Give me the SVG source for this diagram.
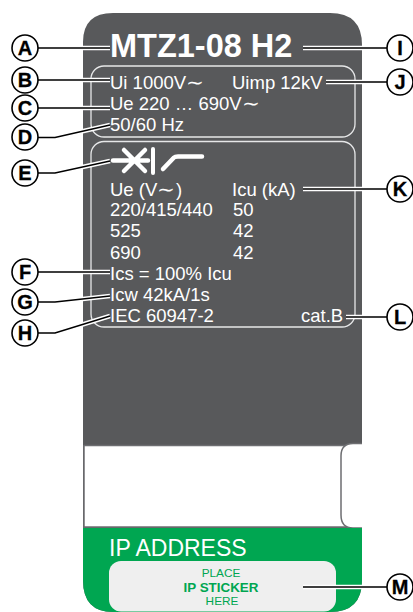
<svg xmlns="http://www.w3.org/2000/svg" width="413" height="612" viewBox="0 0 413 612">
<style>
text{font-family:"Liberation Sans",Arial,sans-serif}
.v{fill:#fff;font-size:18.5px}
.c{fill:#fff;stroke:#000;stroke-width:1.6}
.l{font-size:20px;font-weight:700;fill:#000;text-anchor:middle;stroke:#000;stroke-width:.3}
.wl{fill:none;stroke:#fff;stroke-width:4.500}
.bl{fill:none;stroke:#000;stroke-width:1.500}
.g{fill:#00a651;text-anchor:middle;font-size:11.800px}
</style>
<g id="label-plate">
<path d="M83 528V42Q83 13 113 13H330Q362 13 362 45V443.500H353Q341 443.500 341 456V515Q341 528 353 528H362V580Q362 612 330 612H113Q83 612 83 580Z" fill="#58595b"/>
<path d="M84 445.500H347Q341 449 341 456V515Q341 522 347 527H84Z" fill="#fff"/>
<path d="M84 445.500H345M84 445V528M84 527H350" fill="none" stroke="#6d6e71" stroke-width="1.500"/>
<path d="M362 443.500H353Q341 443.500 341 456V515Q341 528 353 528H362V443.500Z" fill="#fff"/>
<path d="M362 443.500H353Q341 443.500 341 456V515Q341 528 353 528H362" fill="none" stroke="#6d6e71" stroke-width="1.500"/>
<path d="M83 528H362V580Q362 612 330 612H113Q83 612 83 580Z" fill="#00a651"/>
<rect x="109" y="561" width="227" height="50.500" rx="12" fill="#efefef"/>
<rect x="91" y="66" width="264" height="71" rx="13" fill="none" stroke="#e6e7e8" stroke-width="1.300"/>
<rect x="91" y="141.500" width="264" height="185.500" rx="13" fill="none" stroke="#e6e7e8" stroke-width="1.300"/>
</g>
<g id="plate-text">
<text x="110" y="57" fill="#fff" font-size="32.500" font-weight="700">MTZ1-08 H2</text>
<text class="v" x="110" y="89">Ui 1000V<tspan x="186" textLength="18" lengthAdjust="spacingAndGlyphs">∼</tspan></text>
<text class="v" x="232" y="89">Uimp 12kV</text>
<text class="v" x="110" y="110">Ue 220 … 690V<tspan x="242" textLength="18" lengthAdjust="spacingAndGlyphs">∼</tspan></text>
<text class="v" x="110" y="131">50/60 Hz</text>
<text class="v" x="110" y="196">Ue (V<tspan x="157" textLength="18" lengthAdjust="spacingAndGlyphs">∼</tspan><tspan x="176">)</tspan></text>
<text class="v" x="232" y="196">Icu (kA)</text>
<text class="v" x="110" y="216">220/415/440</text>
<text class="v" x="233" y="216">50</text>
<text class="v" x="110" y="237">525</text>
<text class="v" x="233" y="237">42</text>
<text class="v" x="110" y="259">690</text>
<text class="v" x="233" y="259">42</text>
<text class="v" x="110" y="280">Ics = 100% Icu</text>
<text class="v" x="110" y="301">Icw 42kA/1s</text>
<text class="v" x="110" y="322">IEC 60947-2</text>
<text class="v" x="301" y="322">cat.B</text>
<text x="109" y="556" fill="#fff" font-size="23">IP ADDRESS</text>
<text class="g" x="221" y="577">PLACE</text>
<text class="g" x="221" y="592" font-weight="700" style="font-size:13.400px">IP STICKER</text>
<text class="g" x="222" y="605">HERE</text>
</g>
<g id="breaker-symbol" fill="none" stroke="#fff" stroke-width="4.500" stroke-linecap="round">
<path d="M113 160.500H148M124 171L145 150M124 150L145 171"/>
<path d="M153 149V173" stroke-width="4"/>
<path d="M163 169L174 157.500Q175 156.500 178 156.500H202"/>
</g>
<g id="connectors">
<g class="wl">
<path d="M38 48H110M303 48H387M38 80H110M326 82H387M38 108H110M38 137.500H55L110 125M38 173H55L110 161M38 272H110M38 302H55L110 296M38 333H55L110 316M303 189H387M346 317H387M303 587H387"/>
</g>
<g class="bl">
<path d="M38 48H110M303 48H387M38 80H110M326 82H387M38 108H110M38 137.500H55L110 125M38 173H55L110 161M38 272H110M38 302H55L110 296M38 333H55L110 316M303 189H387M346 317H387M303 587H387"/>
</g>
</g>
<g id="callout-A"><circle class="c" cx="25" cy="48" r="13"/><text class="l" x="25" y="55">A</text></g>
<g id="callout-B"><circle class="c" cx="25" cy="80" r="13"/><text class="l" x="25" y="87">B</text></g>
<g id="callout-C"><circle class="c" cx="25" cy="108" r="13"/><text class="l" x="25" y="115">C</text></g>
<g id="callout-D"><circle class="c" cx="25" cy="137" r="13"/><text class="l" x="25" y="144">D</text></g>
<g id="callout-E"><circle class="c" cx="25" cy="173" r="13"/><text class="l" x="25" y="180">E</text></g>
<g id="callout-F"><circle class="c" cx="25" cy="272" r="13"/><text class="l" x="25" y="279">F</text></g>
<g id="callout-G"><circle class="c" cx="25" cy="302" r="13"/><text class="l" x="25" y="309">G</text></g>
<g id="callout-H"><circle class="c" cx="25" cy="333" r="13"/><text class="l" x="25" y="340">H</text></g>
<g id="callout-I"><circle class="c" cx="400" cy="48" r="13"/><text class="l" x="400" y="55">I</text></g>
<g id="callout-J"><circle class="c" cx="400" cy="82" r="13"/><text class="l" x="400" y="89">J</text></g>
<g id="callout-K"><circle class="c" cx="400" cy="189" r="13"/><text class="l" x="400" y="196">K</text></g>
<g id="callout-L"><circle class="c" cx="400" cy="317" r="13"/><text class="l" x="400" y="324">L</text></g>
<g id="callout-M"><circle class="c" cx="400" cy="587" r="13"/><text class="l" x="400" y="594">M</text></g>
</svg>
